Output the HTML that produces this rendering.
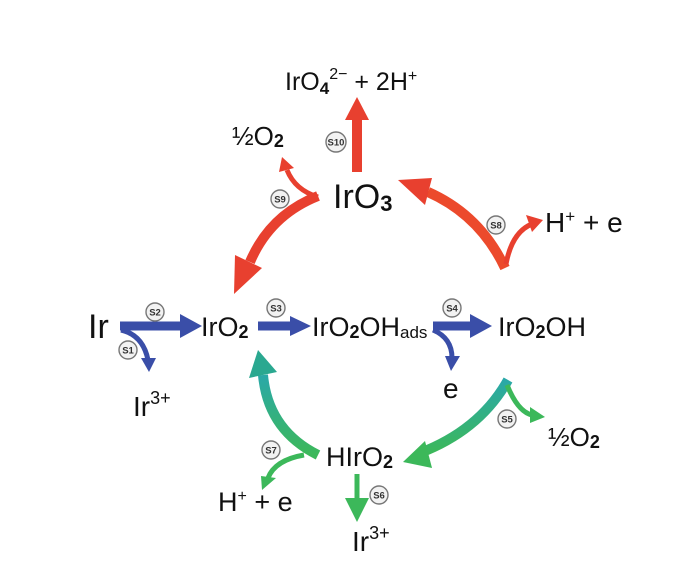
<!DOCTYPE html>
<html><head><style>
html,body{margin:0;padding:0;background:#fff;}
svg{display:block}
text{font-family:"Liberation Sans","DejaVu Sans",sans-serif;fill:#111}
.c circle{fill:#f2f2f2;stroke:#777;stroke-width:1.4}
.c text{font-size:9.5px;font-weight:bold;fill:#333;text-anchor:middle}
</style></head><body>
<svg width="700" height="576" viewBox="0 0 700 576" xmlns="http://www.w3.org/2000/svg">
<defs>
<linearGradient id="gg" x1="0" y1="0" x2="0" y2="1">
<stop offset="0" stop-color="#2aa8a8"/><stop offset="1" stop-color="#3cb85a"/></linearGradient>
</defs>
<g fill="none" stroke="#e8402f" stroke-width="10">
<path d="M357 172 L357 118"/>
<path d="M318 196 Q270 215 250 262"/>
<path d="M505 268 Q480 215 428 192" stroke="#ec4a2c"/>
</g>
<g fill="none" stroke="#e8402f" stroke-width="5">
<path d="M318 197 Q295 190 287 170"/>
<path d="M506 264 Q512 232 532 224"/>
</g>
<g fill="#e8402f">
<polygon points="345,120 369,120 357,97"/>
<polygon points="235,255 262,268 234,294"/>
<polygon points="432,178 425,205 398,180"/>
<polygon points="279,172 294,168 282,157"/>
<polygon points="526,215 532,232 543,220"/>
</g>
<g fill="none" stroke="#3a4ea8" stroke-width="9">
<path d="M120 326 L182 326"/>
<path d="M258 326 L292 326"/>
<path d="M433 326 L472 326"/>
</g>
<g fill="none" stroke="#3a4ea8" stroke-width="5">
<path d="M121 330 Q143 335 148 360"/>
<path d="M433 330 Q452 338 452 358"/>
</g>
<g fill="#3a4ea8">
<polygon points="180,314 180,338 202,326"/>
<polygon points="290,316 290,336 311,326"/>
<polygon points="470,314 470,338 492,326"/>
<polygon points="141,358 156,358 149,372"/>
<polygon points="445,356 460,356 451,371"/>
</g>
<g fill="none" stroke="url(#gg)" stroke-width="10">
<path d="M508 380 Q480 430 420 453"/>
<path d="M318 455 Q268 430 263 375"/>
</g>
<g fill="none" stroke="#3cb85a" stroke-width="5">
<path d="M507 385 Q518 412 532 415"/>
<path d="M304 455 Q275 460 268 478"/>
<path d="M357 474 L357 500"/>
</g>
<g fill="#3cb85a">
<polygon points="530,407 530,423 545,417"/>
<polygon points="261,476 276,478 262,490"/>
<polygon points="345,498 369,498 357,522"/>
<polygon points="425,441 432,468 403,462"/>
</g>
<polygon points="249,378 277,372 258,350" fill="#2aa890"/>
<g class="c">
<circle cx="336" cy="142" r="10"/><text x="336" y="145.5">S10</text>
<circle cx="280" cy="199" r="9"/><text x="280" y="202.5">S9</text>
<circle cx="496" cy="225" r="9"/><text x="496" y="228.5">S8</text>
<circle cx="155" cy="312" r="9"/><text x="155" y="315.5">S2</text>
<circle cx="128" cy="350" r="9"/><text x="128" y="353.5">S1</text>
<circle cx="276" cy="308" r="9"/><text x="276" y="311.5">S3</text>
<circle cx="452" cy="308" r="9"/><text x="452" y="311.5">S4</text>
<circle cx="507" cy="419" r="9"/><text x="507" y="422.5">S5</text>
<circle cx="271" cy="450" r="9"/><text x="271" y="453.5">S7</text>
<circle cx="379" cy="495" r="9"/><text x="379" y="498.5">S6</text>
</g>
<text x="285" y="90" font-size="25">IrO<tspan font-size="17" dy="4" font-weight="bold">4</tspan><tspan font-size="16" dy="-15">2−</tspan><tspan dy="11"> + 2H</tspan><tspan font-size="16" dy="-9">+</tspan></text>
<text x="232" y="145" font-size="26">½O<tspan font-size="18" dy="2" font-weight="bold">2</tspan></text>
<text x="333" y="208" font-size="34">IrO<tspan font-size="22" dy="3" font-weight="bold">3</tspan></text>
<text x="545" y="232" font-size="28">H<tspan font-size="17" dy="-10">+</tspan><tspan dy="10"> + e</tspan></text>
<text x="88" y="338" font-size="34">Ir</text>
<text x="201" y="336" font-size="27">IrO<tspan font-size="18" dy="2" font-weight="bold">2</tspan></text>
<text x="312" y="336" font-size="27">IrO<tspan font-size="18" dy="2" font-weight="bold">2</tspan><tspan dy="-2">OH</tspan><tspan font-size="17" dy="2">ads</tspan></text>
<text x="498" y="336" font-size="27">IrO<tspan font-size="18" dy="2" font-weight="bold">2</tspan><tspan dy="-2">OH</tspan></text>
<text x="133" y="416" font-size="28">Ir<tspan font-size="18" dy="-12">3+</tspan></text>
<text x="443" y="398" font-size="28">e</text>
<text x="548" y="446" font-size="26">½O<tspan font-size="18" dy="2" font-weight="bold">2</tspan></text>
<text x="326" y="466" font-size="27">HIrO<tspan font-size="18" dy="2" font-weight="bold">2</tspan></text>
<text x="218" y="511" font-size="27">H<tspan font-size="16" dy="-10">+</tspan><tspan dy="10"> + e</tspan></text>
<text x="352" y="551" font-size="28">Ir<tspan font-size="18" dy="-12">3+</tspan></text>
</svg>
</body></html>
